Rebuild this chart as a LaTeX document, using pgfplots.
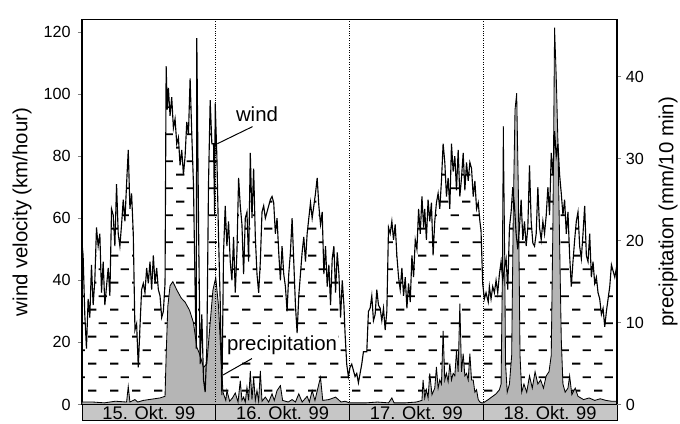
\documentclass[border=0pt]{standalone}
\usepackage{fontspec}
\setmainfont{Liberation Sans}
\usepackage{pgfplots}
\pgfplotsset{compat=1.18}
\usepackage{pgfplotstable}
\usetikzlibrary{patterns}

\pgfdeclarepatternformonly{dashrows}{\pgfpoint{0mm}{0mm}}{\pgfpoint{5.5mm}{6.7mm}}{\pgfpoint{5.5mm}{6.7mm}}{%
  \pgfsetlinewidth{0.45mm}%
  \pgfpathmoveto{\pgfpoint{0mm}{1.6mm}}\pgfpathlineto{\pgfpoint{2.2mm}{1.6mm}}%
  \pgfpathmoveto{\pgfpoint{2.75mm}{4.95mm}}\pgfpathlineto{\pgfpoint{4.95mm}{4.95mm}}%
  \pgfusepath{stroke}%
}

\pgfplotstableread{
h w
0.0 52
0.2 48
0.5 29
0.8 18
1.1 34
1.4 28
1.7 45
2.0 32
2.3 40
2.6 57
2.9 51
3.2 55
3.5 36
3.8 46
4.1 32
4.4 38
4.7 44
5.0 35
5.3 63
5.6 61
5.9 51
6.2 71
6.5 55
6.8 51
7.1 58
7.4 66
7.7 59
8.0 71
8.3 82
8.6 63
8.9 68
9.2 55
9.5 24
9.8 26
10.1 12
10.4 25
10.7 37
11.0 39
11.3 36
11.6 44
11.9 39
12.2 46
12.5 37
12.8 48
13.1 39
13.4 44
13.7 37
14.0 35
14.3 28
14.6 30
14.9 39
15.1 109
15.3 95
15.5 102
15.8 93
16.1 99
16.4 89
16.7 92
17.0 84
17.3 86
17.6 77
17.9 82
18.2 74
18.5 80
18.8 91
19.1 87
19.4 105
19.7 87
20.0 71
20.3 37
20.5 18
20.6 118
20.9 61
21.2 13
21.5 29
21.8 8
22.1 4
22.4 18
22.7 71
23.0 98
23.3 84
23.6 84
23.8 61
23.9 97
24.2 80
24.5 54
24.8 33
25.1 3
25.4 49
25.7 64
26.0 51
26.3 59
26.6 46
26.9 40
27.2 54
27.5 36
27.8 49
28.1 73
28.4 64
28.7 58
29.0 42
29.3 60
29.6 62
29.9 46
30.2 81
30.5 60
30.8 76
31.1 54
31.4 42
31.7 36
32.0 46
32.3 62
32.6 64
32.9 60
33.2 62
33.5 64
33.8 66
34.1 67
34.4 65
34.7 55
35.0 60
35.3 49
35.6 40
35.9 51
36.2 42
36.5 38
36.8 30
37.1 42
37.4 49
37.7 60
38.0 46
38.3 32
38.6 23
38.9 35
39.2 42
39.5 49
39.8 54
40.1 46
40.4 55
40.7 60
41.0 65
41.3 60
41.6 64
41.9 68
42.2 73
42.5 64
42.8 58
43.1 62
43.4 42
43.7 51
44.0 38
44.3 45
44.6 32
44.9 47
45.2 51
45.5 36
45.8 49
46.1 42
46.4 28
46.7 40
47.0 32
47.2 23
47.5 13
47.8 9
48.1 12
48.4 13
48.7 11
49.0 9
49.3 10
49.6 7
49.9 10
50.2 13
50.5 17
50.8 17
51.1 17
51.4 30
51.7 31
52.0 35
52.3 27
52.6 29
52.9 37
53.2 32
53.5 31
53.8 27
54.1 31
54.4 24
54.7 30
55.0 57
55.3 55
55.6 59
55.9 53
56.2 58
56.5 48
56.8 41
57.1 37
57.4 44
57.7 35
58.0 41
58.3 31
58.6 39
58.9 33
59.2 48
59.5 41
59.8 53
60.1 50
60.4 63
60.7 55
61.0 67
61.3 57
61.5 63
61.8 53
62.1 66
62.4 59
62.7 65
63.0 48
63.3 59
63.6 65
63.9 68
64.2 63
64.5 72
64.8 84
65.1 78
65.4 67
65.7 73
66.0 63
66.3 84
66.6 75
66.9 80
67.2 69
67.5 82
67.8 67
68.1 73
68.4 81
68.7 69
69.0 78
69.3 72
69.6 78
69.9 76
70.2 67
70.5 72
70.8 63
71.1 65
71.4 59
71.6 56
71.9 39
72.2 34
72.5 36
72.9 33
73.1 38
73.4 34
73.7 38
74.0 36
74.3 40
74.6 36
74.9 42
75.2 46
75.5 40
75.8 44
76.1 47
76.4 37
76.7 57
77.0 62
77.3 70
77.6 64
77.9 55
78.2 50
78.5 57
78.8 66
79.1 53
79.4 59
79.7 51
80.0 57
80.3 77
80.6 59
80.9 52
81.2 51
81.5 55
81.8 70
82.1 57
82.4 53
82.7 59
83.0 55
83.3 61
83.6 70
83.9 61
84.2 81
84.5 74
84.8 88
85.1 80
85.4 84
85.7 74
86.0 68
86.3 61
86.6 66
86.9 55
87.2 62
87.5 48
87.8 38
88.1 46
88.4 53
88.7 59
89.0 62
89.3 51
89.6 47
89.9 55
90.2 64
90.5 48
90.8 46
91.1 55
91.4 41
91.7 46
92.0 39
92.3 41
92.6 36
92.9 34
93.2 29
93.5 31
93.8 25
94.1 30
94.4 34
94.7 38
95.0 45
95.3 43
95.6 41
96.0 45
}\windtable

\pgfplotstableread{
h p
0 0.3
2 0.3
4 0.2
6 0.4
8.0 0.3
8.3 2.2
8.6 0.3
9.5 0.6
10 0.3
11 0.5
12 0.6
13 0.7
14 0.8
14.9 1.0
15.1 6
15.4 12
15.8 14.5
16.3 15
17.0 14
17.8 13
18.5 12.5
19.3 11.5
20.0 10
20.6 7
21.2 6
21.8 4.5
22.4 5
23.0 10
23.5 14
24.0 15.5
24.5 12
25.0 5
25.3 1.5
25.8 0.5
26.0 1.7
26.5 0.4
27.0 0.8
27.5 1.4
28.0 0.3
28.4 2.9
28.7 0.5
29.0 0.9
29.3 0.3
29.6 2.1
29.9 0.5
30.2 4.1
30.5 0.6
30.8 3.3
31.1 0.5
31.4 1.7
31.7 0.4
32.0 4.1
32.3 0.4
32.9 0.9
33.5 0.3
34.1 1.3
34.5 0.5
35.0 1.7
35.6 2.3
36.0 0.5
37.0 0.3
37.7 0.6
38.3 0.3
38.9 1.3
39.5 0.3
40.4 1.0
40.8 0.3
41.3 1.7
41.8 0.5
42.5 2.5
42.8 3.3
43.2 0.5
44.3 0.6
45.5 0.9
46.5 0.3
47.2 0.4
48 0.2
49 0.2
51 0.2
53 0.3
55 0.2
55.6 0.8
56 0.2
58 0.2
60 0.3
61.0 0.5
61.2 3
61.5 0.8
61.8 1.8
62.1 0.8
62.4 3.8
62.8 1.2
63.3 2
63.6 4.6
63.9 2
64.2 3
64.5 2.5
64.8 9
65.1 3
65.4 3.8
65.7 2.8
66.0 5
66.3 3
66.6 3.8
66.9 3.5
67.2 6.6
67.5 4
67.8 12.3
68.1 4
68.4 6.2
68.7 3.5
69.0 3.8
69.3 3
69.6 6.2
69.9 3
70.2 3.0
70.5 1.5
70.8 1.8
71.1 0.6
71.4 0.3
71.7 0.2
72.0 0.2
72.9 0.6
73.7 1.0
74.3 1.3
74.9 1.8
75.2 2.5
75.4 14
75.6 34
75.8 22
76.0 5
76.3 1.5
76.7 2.5
77.1 6
77.4 24
77.7 36
78.0 38
78.3 26
78.6 6
78.9 1.5
79.3 2.5
79.8 1.5
80.3 3.5
80.8 2
81.3 4
81.8 2.5
82.3 3
82.8 2
83.3 3.5
83.8 4
84.2 6
84.5 22
84.8 46
85.1 40
85.4 32
85.7 20
86.0 8
86.3 2.5
86.7 1.5
87.2 2
87.5 3.5
87.9 1.2
88.5 2
89.0 1
90 0.6
91 0.8
92 0.5
93 0.7
94 0.5
95 0.4
96 0.4
}\prectable

\begin{document}
\begin{tikzpicture}
\pgfplotsset{
  every axis/.append style={
    scale only axis, width=133.75mm, height=96.25mm,
    xmin=0, xmax=96,
    tick label style={font=\fontsize{11.5}{13}\selectfont},
    /pgf/number format/assume math mode=true,
    tick align=outside, major tick length=1mm,
    label style={font=\fontsize{14.5}{17}\selectfont},
  }
}
\begin{axis}[
  ymin=0, ymax=124,
  ytick={0,20,...,120}, ytick pos=left,
  xtick=\empty,
  axis line style={line width=0.8pt},
  clip=false,
  ylabel={wind velocity (km/hour)},
  ylabel style={at={(axis description cs:-0.112,0.5)}, rotate=0, anchor=center},
  yticklabel style={xshift=-0.6mm},
]
\addplot[draw=none, pattern=dashrows] table[x=h,y=w] {\windtable} \closedcycle;
\addplot[fill=gray!58, draw=black, line width=0.6pt] table[x=h, y expr=\thisrow{p}*2.638] {\prectable} \closedcycle;
\addplot[black, line width=0.8pt] table[x=h,y=w] {\windtable};
\foreach \d in {24,48,72}{
  \edef\tmp{\noexpand\draw[densely dotted, line width=0.7pt] (axis cs:\d,0) -- (axis cs:\d,124);}
  \tmp
}
% date bar
\fill[gray!45] (axis cs:0,-5.2) rectangle (axis cs:96,0);
\draw[line width=0.6pt] (axis cs:0,-5.2) rectangle (axis cs:96,0);
\draw[line width=0.8pt] (axis cs:24,-5.2) -- (axis cs:24,0);
\draw[line width=0.8pt] (axis cs:48,-5.2) -- (axis cs:48,0);
\draw[line width=0.8pt] (axis cs:72,-5.2) -- (axis cs:72,0);
\draw[line width=1.4pt] (axis cs:0,0) -- (axis cs:96,0);
\node[font=\fontsize{13}{15}\selectfont] at (axis cs:12,-2.6) {15. Okt. 99};
\node[font=\fontsize{13}{15}\selectfont] at (axis cs:36,-2.6) {16. Okt. 99};
\node[font=\fontsize{13}{15}\selectfont] at (axis cs:60,-2.6) {17. Okt. 99};
\node[font=\fontsize{13}{15}\selectfont] at (axis cs:84,-2.6) {18. Okt. 99};
% annotations
\node[font=\fontsize{14.5}{17}\selectfont, fill=white, inner sep=1pt] at (axis cs:31.4,93.5) {wind};
\draw[line width=0.7pt] (axis cs:30.6,89.5) -- (axis cs:24.3,84);
\node[font=\fontsize{14.5}{17}\selectfont, fill=white, inner sep=1pt] at (axis cs:35.9,19) {precipitation};
\draw[line width=0.7pt] (axis cs:30.5,14.8) -- (axis cs:25.3,9.5);
\end{axis}
\begin{axis}[
  ymin=0, ymax=46.95,
  axis x line=none, axis y line*=right,
  ytick={0,10,...,40},
  axis line style={line width=0.8pt},
  ylabel={precipitation (mm/10 min)},
  ylabel style={at={(axis description cs:1.0953,0.5)}, rotate=0, anchor=center},
]
\addplot[draw=none] coordinates {(0,0)};
\end{axis}
\pgfresetboundingbox
\path[use as bounding box] (-20.5mm,-4.875mm) rectangle (149.5mm,101.125mm);
\end{tikzpicture}
\end{document}
